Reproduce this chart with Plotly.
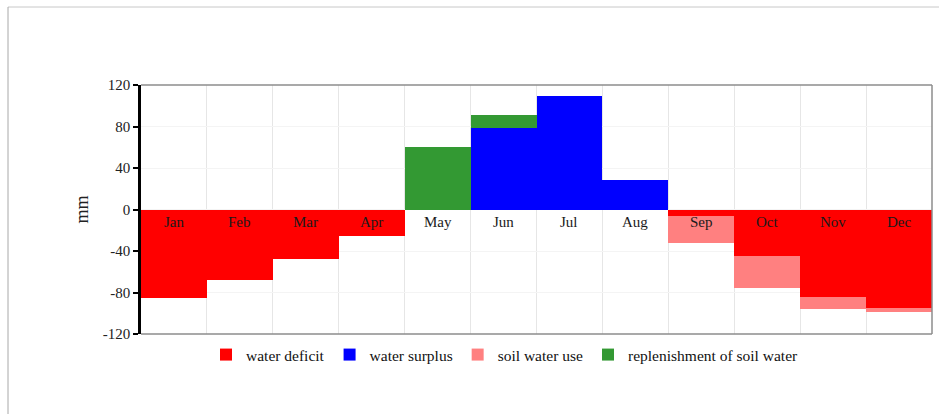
import plotly.graph_objects as go

months = ["Jan", "Feb", "Mar", "Apr", "May", "Jun", "Jul", "Aug", "Sep", "Oct", "Nov", "Dec"]
water_deficit = [-85, -68, -48, -26, 0, 0, 0, 0, -6, -45, -84, -95]
water_surplus = [0, 0, 0, 0, 0, 79, 109, 28, 0, 0, 0, 0]
soil_water_use = [0, 0, 0, 0, 0, 0, 0, 0, -26, -31, -12, -4]
replenishment = [0, 0, 0, 0, 60, 12, 0, 0, 0, 0, 0, 0]
y_ticks = [-120, -80, -40, 0, 40, 80, 120]
label_y = -12

FONT = "Liberation Serif, Times New Roman, serif"

fig = go.Figure()
series = [
    ("water deficit", water_deficit, "#ff0000"),
    ("water surplus", water_surplus, "#0000ff"),
    ("soil water use", soil_water_use, "#ff8080"),
    ("replenishment of soil water", replenishment, "#339933"),
]
for name, vals, col in series:
    fig.add_trace(go.Bar(x=months, y=vals, name=name, marker=dict(color=col, line=dict(width=0)),
                         width=1.0))

for m in months:
    fig.add_annotation(x=m, y=label_y, text=m, showarrow=False,
                       font=dict(family=FONT, size=15, color="#1a1a1a"))

L, R, T, B = 141, 7, 85, 80
W, H = 939, 414
pw, ph = W - L - R, H - T - B

def px_x(p):
    return (p - L) / pw

def px_y(p):
    return 1 - (p - T) / ph

shapes = [
    dict(type="line", xref="paper", yref="paper", x0=0, x1=1, y0=1, y1=1, line=dict(color="#8c8c8c", width=1.5), layer="above"),
    dict(type="line", xref="paper", yref="paper", x0=1, x1=1, y0=0, y1=1, line=dict(color="#8c8c8c", width=1.5), layer="above"),
    dict(type="line", xref="paper", yref="paper", x0=0, x1=1, y0=0, y1=0, line=dict(color="#8c8c8c", width=1.5), layer="above"),
    dict(type="line", xref="paper", yref="paper", x0=px_x(8), x1=px_x(945), y0=px_y(7), y1=px_y(7), line=dict(color="#c8c8c8", width=1)),
    dict(type="line", xref="paper", yref="paper", x0=px_x(8), x1=px_x(8), y0=px_y(7), y1=px_y(420), line=dict(color="#a8a8a8", width=1)),
]

fig.update_layout(
    width=W, height=H,
    margin=dict(l=L, r=R, t=T, b=B),
    barmode="relative", bargap=0,
    plot_bgcolor="white", paper_bgcolor="white",
    font=dict(family=FONT, size=15, color="#222"),
    showlegend=True,
    legend=dict(orientation="h", x=px_x(505), xanchor="center", y=px_y(355), yanchor="middle",
                font=dict(family=FONT, size=15.5, color="#111"), itemwidth=30, tracegroupgap=0),
    shapes=shapes,
    xaxis=dict(type="category", tickson="boundaries", showgrid=True, gridcolor="#e6e6e6", gridwidth=1,
               showticklabels=False, ticks="", showline=False, zeroline=False, fixedrange=True),
    yaxis=dict(range=[-120, 120], tickvals=y_ticks, ticktext=[str(v) for v in y_ticks],
               showgrid=True, gridcolor="#f4f4f4", zeroline=False,
               showline=True, linecolor="black", linewidth=2.5, ticks="outside", ticklen=5,
               tickwidth=2, tickcolor="black", tickfont=dict(family=FONT, size=15, color="#222"),
               title=dict(text="mm", font=dict(family=FONT, size=18, color="#222"), standoff=10)),
)

fig.write_html("out.html")
